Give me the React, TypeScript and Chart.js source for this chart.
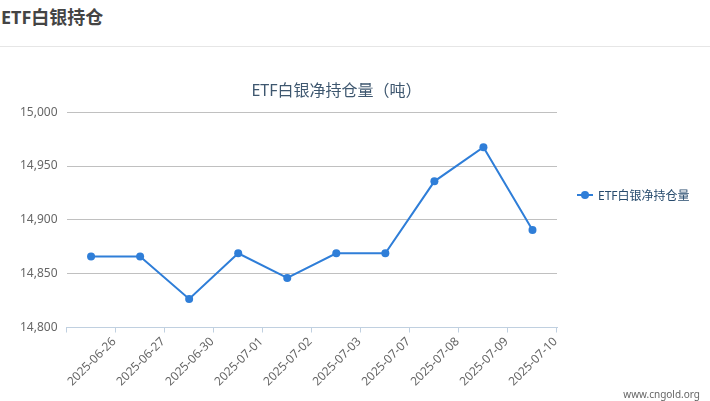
import { useEffect, useRef } from 'react';
import { Chart, registerables } from 'chart.js';

Chart.register(...registerables);

const dates = [
  '2025-06-26', '2025-06-27', '2025-06-30', '2025-07-01', '2025-07-02',
  '2025-07-03', '2025-07-07', '2025-07-08', '2025-07-09', '2025-07-10',
];
const holdings = [14866, 14866, 14826.5, 14869, 14846, 14869, 14869, 14935.8, 14967.5, 14890.5];
const yTicks = [14800, 14850, 14900, 14950, 15000];

const seriesName = 'ETF白银净持仓量';
const chartTitle = 'ETF白银净持仓量（吨）';
const lineColor = '#2f7ed8';
const fontFamily = '"Segoe UI", "Noto Sans", "Noto Sans CJK SC", sans-serif';

export default function App() {
  const chartRef = useRef<HTMLCanvasElement>(null);
  const chartInstance = useRef<Chart | null>(null);

  useEffect(() => {
    if (!chartRef.current) return;
    if (chartInstance.current) chartInstance.current.destroy();
    const ctx = chartRef.current.getContext('2d');
    if (!ctx) return;

    chartInstance.current = new Chart(ctx, {
      type: 'line',
      data: {
        labels: dates,
        datasets: [
          {
            label: seriesName,
            data: holdings,
            borderColor: lineColor,
            backgroundColor: lineColor,
            borderWidth: 2,
            tension: 0,
            fill: false,
            pointRadius: 4,
            pointBackgroundColor: lineColor,
            pointBorderColor: lineColor,
            pointBorderWidth: 0,
            yAxisID: 'y',
          },
        ],
      },
      options: {
        animation: false,
        responsive: true,
        maintainAspectRatio: false,
        layout: { padding: { left: 11, right: 48, top: 0, bottom: 10 } },
        plugins: {
          legend: { display: false },
          tooltip: { enabled: false },
          title: {
            display: true,
            text: chartTitle,
            color: '#3e576f',
            font: { family: fontFamily, size: 16, weight: 'normal' },
            padding: { top: 35, bottom: 11 },
          },
        },
        scales: {
          x: {
            offset: true,
            afterFit: (axis) => {
              axis.paddingLeft = 0;
              axis.paddingRight = 0;
            },
            grid: {
              offset: true,
              drawOnChartArea: false,
              drawTicks: true,
              tickLength: 5,
              color: '#c0d0e0',
            },
            border: { display: true, color: '#c0d0e0', width: 1 },
            ticks: {
              color: '#666',
              font: { family: fontFamily, size: 12 },
              minRotation: 45,
              maxRotation: 45,
              autoSkip: false,
              labelOffset: 23,
              padding: 2,
            },
          },
          y: {
            min: yTicks[0],
            max: yTicks[yTicks.length - 1],
            afterBuildTicks: (axis) => {
              axis.ticks = yTicks.map((v) => ({ value: v }));
            },
            grid: { color: '#c0c0c0', drawTicks: false },
            border: { display: false },
            ticks: {
              color: '#666',
              padding: 9,
              font: { family: fontFamily, size: 12 },
              callback: (v) => Number(v).toLocaleString('en-US'),
            },
          },
          // empty right-hand axis: reserves the space where the legend sits
          spacer: {
            type: 'linear',
            position: 'right',
            display: true,
            afterFit: (axis) => {
              axis.width = 105;
            },
            grid: { drawOnChartArea: false, drawTicks: false },
            border: { display: false },
            ticks: { display: false },
          },
        },
      },
    });

    return () => {
      if (chartInstance.current) {
        chartInstance.current.destroy();
        chartInstance.current = null;
      }
    };
  }, []);

  return (
    <div
      style={{
        position: 'absolute',
        left: 0,
        top: 0,
        width: 710,
        height: 401,
        background: '#fff',
        fontFamily,
        overflow: 'hidden',
      }}
    >
      <div
        style={{
          height: 46,
          borderBottom: '1px solid #e6e6e6',
          boxSizing: 'content-box',
          fontSize: 18,
          fontWeight: 'bold',
          color: '#444',
          lineHeight: '34px',
          paddingLeft: 1,
        }}
      >
        ETF白银持仓
      </div>
      <div style={{ position: 'absolute', left: 0, top: 47, width: 710, height: 354 }}>
        <canvas ref={chartRef}></canvas>
      </div>
      <div
        style={{
          position: 'absolute',
          left: 577,
          top: 187,
          height: 16,
          display: 'flex',
          alignItems: 'center',
          fontSize: 12,
          color: '#274b6d',
        }}
      >
        <span style={{ position: 'relative', width: 16, height: 16, marginRight: 5 }}>
          <span
            style={{
              position: 'absolute',
              left: 0,
              top: 7,
              width: 16,
              height: 2,
              background: lineColor,
            }}
          />
          <span
            style={{
              position: 'absolute',
              left: 4,
              top: 4,
              width: 8,
              height: 8,
              borderRadius: 4,
              background: lineColor,
            }}
          />
        </span>
        {seriesName}
      </div>
      <div
        style={{
          position: 'absolute',
          right: 10,
          top: 387,
          fontSize: 10,
          color: '#666',
        }}
      >
        www.cngold.org
      </div>
    </div>
  );
}
